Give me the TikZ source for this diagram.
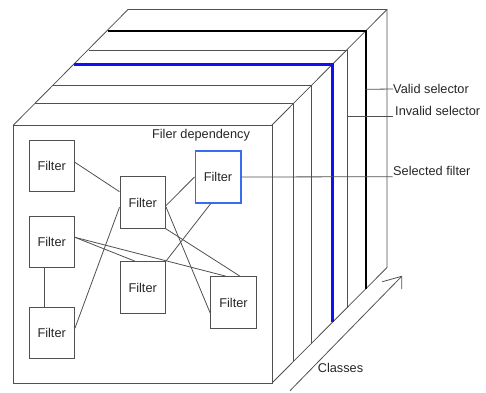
\documentclass[tikz,border=0pt]{standalone}
\usepackage{fontspec}
\setmainfont{Liberation Sans}
\definecolor{edgegray}{HTML}{505050}
\definecolor{selblue}{HTML}{3A6CF0}
\definecolor{layerblue}{HTML}{1010F0}
\begin{document}
\begin{tikzpicture}[x=1pt,y=-1pt,
  every node/.style={font=\fontsize{12.75}{15}\selectfont, text=black!85},
  thin line/.style={draw=edgegray, line width=0.8pt},
  filterbox/.style={draw=edgegray, line width=0.9pt, minimum width=45.5pt, minimum height=51.7pt, inner sep=0pt},
  selbox/.style={filterbox, draw=selblue, line width=1.5pt},
  lbl/.style={anchor=west, inner sep=0pt}]
\useasboundingbox (0,0) rectangle (486,392);
% cube corners
\coordinate (ftl) at (13.5,125);
\coordinate (ftr) at (272,125);
\coordinate (fbr) at (272,383);
\coordinate (fbl) at (13.5,383);
\coordinate (btl) at (128,9.5);
\coordinate (btr) at (387,9.5);
\coordinate (bbr) at (387,267.5);
% outer edges
\draw[thin line] (ftl) -- (btl) -- (btr) -- (bbr) -- (fbr);
\draw[thin line] (ftr) -- (btr);
% slices
\foreach \d in {21.7,39.7,75} {
  \draw[thin line] (13.5+\d,125-\d) -- (272+\d,125-\d) -- (272+\d,383-\d);
}
\draw[draw=layerblue, line width=2.6pt] (13.5+60.7,125-60.7) -- (272+60.7,125-60.7) -- (272+60.7,383-60.7);
\draw[draw=black, line width=2.6pt] (13.5+94,125-94) -- (272+94,125-94) -- (272+94,383-94);
% front face
\draw[thin line, fill=white] (ftl) rectangle (fbr);
\node[anchor=center] (dep) at (201,135) {Filer dependency};
% filters
\node[filterbox] (b1) at (51.7,166) {Filter};
\node[filterbox] (b2) at (51.7,242) {Filter};
\node[filterbox] (b3) at (51.7,333) {Filter};
\node[filterbox] (b4) at (142.7,202.5) {Filter};
\node[filterbox] (b5) at (142.7,287.5) {Filter};
\node[selbox] (b6) at (218,177) {Filter};
\node[filterbox] (b7) at (233.5,302.5) {Filter};
% connectors
\draw[thin line] ([yshift=3.7pt]b1.east) -- ([yshift=10.8pt]b4.west);
\draw[thin line] ([yshift=-3.2pt]b4.east) -- (b6.west);
\draw[thin line] ([yshift=-4.8pt]b4.west) -- ([yshift=4.7pt]b3.east);
\draw[thin line] ([yshift=4.7pt]b2.east) -- ([xshift=-7.7pt]b5.north);
\draw[thin line] ([yshift=4.7pt]b2.east) -- ([xshift=-7.5pt]b7.north);
\draw[thin line] ([xshift=-7.7pt]b2.south) -- ([xshift=-7.7pt]b3.north);
\draw[thin line] (b5.north east) -- ([xshift=-7.3pt]b6.south);
\draw[thin line] ([yshift=-4.2pt]b4.east) -- ([yshift=-10.8pt]b7.west);
\draw[thin line] (b4.south east) -- ([xshift=6.5pt]b7.north);
% labels
\node[lbl] (valid) at (393,89) {Valid selector};
\node[lbl] (invalid) at (395,111) {Invalid selector};
\node[lbl] (selected) at (393,171) {Selected filter};
\node (classes) at (340.5,368) {Classes};
\coordinate (vstart) at (365.7,89.3);
\coordinate (istart) at (346.7,116.5);
\coordinate (iend) at (392.7,116.5);
\coordinate (send) at (392.7,176.7);
\draw[thin line] (vstart) -- (valid.west);
\draw[thin line] (istart) -- (iend);
\draw[thin line] (b6.east) -- (send);
% classes arrow
\coordinate (a0) at (290,390.7);
\coordinate (a1) at (401.7,276.3);
\coordinate (h1) at (382.3,281.7);
\coordinate (h2) at (401.7,289);
\draw[thin line] (a0) -- (a1);
\draw[thin line, line join=miter] (h1) -- (a1) -- (h2);
\end{tikzpicture}
\end{document}
